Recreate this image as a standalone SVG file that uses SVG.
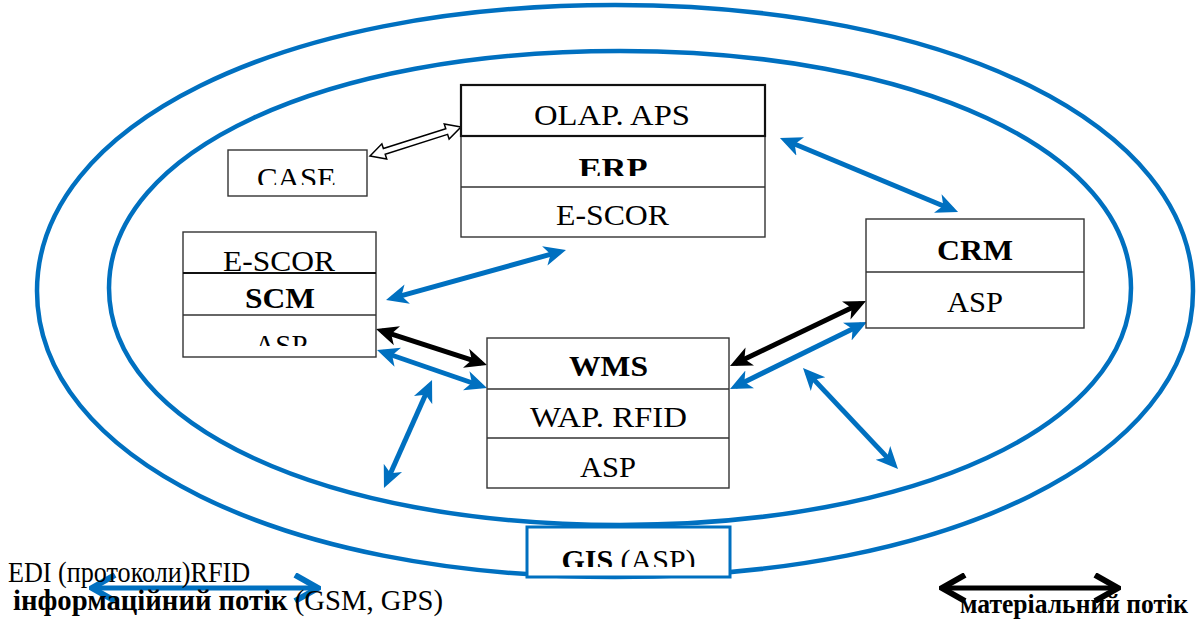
<svg xmlns="http://www.w3.org/2000/svg" width="1199" height="625" viewBox="0 0 1199 625">
<style>
.t{font-family:"Liberation Serif","Times New Roman",serif;font-size:30px;fill:#000;text-anchor:middle}
.b{font-weight:bold}
.box{fill:#fff;stroke:#333;stroke-width:1.4}
.sep{stroke:#333;stroke-width:1.4}
.ring{fill:none;stroke:#0070C0;stroke-width:4.5}
.ab{stroke:#0070C0;stroke-width:5;fill:none}
.ak{stroke:#000;stroke-width:5;fill:none}
</style>
<defs>
<marker id="hb" markerUnits="userSpaceOnUse" viewBox="0 0 22 22" markerWidth="22" markerHeight="22" refX="16" refY="11" orient="auto-start-reverse"><path d="M0,1 L22,11 L0,21 L6,11 Z" fill="#0070C0"/></marker>
<marker id="hk" markerUnits="userSpaceOnUse" viewBox="0 0 22 22" markerWidth="22" markerHeight="22" refX="16" refY="11" orient="auto-start-reverse"><path d="M0,1 L22,11 L0,21 L6,11 Z" fill="#000"/></marker>
<marker id="cb" markerUnits="userSpaceOnUse" viewBox="0 0 30 30" markerWidth="30" markerHeight="30" refX="27" refY="15" orient="auto-start-reverse"><path d="M4,2 L27,15 L4,28" fill="none" stroke="#0070C0" stroke-width="6"/></marker>
<marker id="ck" markerUnits="userSpaceOnUse" viewBox="0 0 30 30" markerWidth="30" markerHeight="30" refX="27" refY="15" orient="auto-start-reverse"><path d="M4,2 L27,15 L4,28" fill="none" stroke="#000" stroke-width="6"/></marker>
<clipPath id="cCase"><rect x="228" y="150" width="139" height="35"/></clipPath>
<clipPath id="cErp"><rect x="461" y="136" width="304" height="40"/></clipPath>
<clipPath id="cAsp"><rect x="183" y="315" width="193" height="31"/></clipPath>
<clipPath id="cGis"><rect x="527" y="527" width="203" height="40"/></clipPath>
</defs>
<rect width="1199" height="625" fill="#fff"/>

<g id="rings">
<path class="ring" d="M37,291 C37,125.1 279.8,5 615,5 C950.2,5 1193,125.1 1193,291 C1193,456.9 950.2,577 615,577 C279.8,577 37,456.9 37,291 Z"/>
<path class="ring" d="M109,288 C109,150.5 323.6,51 620,51 C916.4,51 1131,150.5 1131,288 C1131,425.5 916.4,525 620,525 C323.6,525 109,425.5 109,288 Z"/>
</g>

<g id="connectors">
<g transform="translate(370,156) rotate(-17.7)"><polygon points="0,0 15,-8 15,-3 80.5,-3 80.5,-8 95.5,0 80.5,8 80.5,3 15,3 15,8" fill="#fff" stroke="#000" stroke-width="1.5"/></g>
<line class="ab" x1="785.5" y1="140.3" x2="952.5" y2="209.7" marker-start="url(#hb)" marker-end="url(#hb)"/>
<line class="ab" x1="391.8" y1="298.4" x2="560.2" y2="251.6" marker-start="url(#hb)" marker-end="url(#hb)"/>
<line class="ak" x1="381.7" y1="330.8" x2="481.3" y2="363.2" marker-start="url(#hk)" marker-end="url(#hk)"/>
<line class="ab" x1="382.7" y1="352" x2="481.3" y2="386" marker-start="url(#hb)" marker-end="url(#hb)"/>
<line class="ab" x1="429.6" y1="385.5" x2="386.4" y2="482.5" marker-start="url(#hb)" marker-end="url(#hb)"/>
<line class="ak" x1="860.6" y1="303.6" x2="735.4" y2="363.4" marker-start="url(#hk)" marker-end="url(#hk)"/>
<line class="ab" x1="861.6" y1="324.6" x2="735.4" y2="386.4" marker-start="url(#hb)" marker-end="url(#hb)"/>
<line class="ab" x1="807.1" y1="372.4" x2="893.9" y2="464.6" marker-start="url(#hb)" marker-end="url(#hb)"/>
<line class="ab" stroke-width="6" x1="92" y1="588" x2="318" y2="588" marker-start="url(#cb)" marker-end="url(#cb)"/>
<line class="ak" stroke-width="6" x1="942" y1="588" x2="1118" y2="588" marker-start="url(#ck)" marker-end="url(#ck)"/>
</g>

<g id="erp">
<rect class="box" x="461" y="85" width="304" height="152"/>
<rect x="461" y="85" width="304" height="51" fill="none" stroke="#111" stroke-width="2.2"/>
<line class="sep" x1="461" y1="187" x2="765" y2="187"/>
<text class="t" x="612" y="125" textLength="156" lengthAdjust="spacingAndGlyphs">OLAP. APS</text>
<text class="t b" x="613" y="178" textLength="69" lengthAdjust="spacingAndGlyphs" clip-path="url(#cErp)">ERP</text>
<text class="t" x="612.5" y="225" textLength="113" lengthAdjust="spacingAndGlyphs">E-SCOR</text>
</g>

<g id="case">
<rect class="box" x="228" y="150" width="139" height="46"/>
<text class="t" x="296.5" y="188" textLength="79" lengthAdjust="spacingAndGlyphs" clip-path="url(#cCase)">CASE</text>
</g>

<g id="scm">
<rect class="box" x="183" y="232" width="193" height="125"/>
<line class="sep" x1="183" y1="315" x2="376" y2="315"/>
<text class="t" x="279" y="271" textLength="112" lengthAdjust="spacingAndGlyphs">E-SCOR</text>
<line x1="183" y1="273" x2="376" y2="273" stroke="#111" stroke-width="2.2"/>
<text class="t b" x="280" y="308" textLength="70" lengthAdjust="spacingAndGlyphs">SCM</text>
<text class="t" x="281" y="355" textLength="53" lengthAdjust="spacingAndGlyphs" clip-path="url(#cAsp)">ASP</text>
</g>

<g id="wms">
<rect class="box" x="487" y="338" width="242" height="150"/>
<line class="sep" x1="487" y1="389" x2="729" y2="389"/>
<line class="sep" x1="487" y1="438" x2="729" y2="438"/>
<text class="t b" x="608.5" y="376" textLength="79" lengthAdjust="spacingAndGlyphs">WMS</text>
<text class="t" x="608.5" y="427" textLength="157" lengthAdjust="spacingAndGlyphs">WAP. RFID</text>
<text class="t" x="608" y="477" textLength="56" lengthAdjust="spacingAndGlyphs">ASP</text>
</g>

<g id="crm">
<rect class="box" x="866" y="219" width="218" height="109"/>
<line class="sep" x1="866" y1="272" x2="1084" y2="272"/>
<text class="t b" x="975" y="260" textLength="76" lengthAdjust="spacingAndGlyphs">CRM</text>
<text class="t" x="975" y="312" textLength="56" lengthAdjust="spacingAndGlyphs">ASP</text>
</g>

<g id="gis">
<rect x="527" y="527" width="203" height="50" fill="#fff" stroke="#0070C0" stroke-width="3"/>
<text class="t" x="628.5" y="570" clip-path="url(#cGis)"><tspan class="b">GIS</tspan> (ASP)</text>
</g>

<g id="legend">
<text class="t" style="text-anchor:start;font-size:29px" x="8" y="582" textLength="242" lengthAdjust="spacingAndGlyphs">EDI (протоколи)RFID</text>
<text class="t" style="text-anchor:start" x="13" y="610" textLength="430" lengthAdjust="spacingAndGlyphs"><tspan class="b">інформаційний потік </tspan>(GSM, GPS)</text>
<text class="t b" style="text-anchor:start;font-size:27px" x="960" y="613" textLength="228" lengthAdjust="spacingAndGlyphs">матеріальний потік</text>
</g>
</svg>
